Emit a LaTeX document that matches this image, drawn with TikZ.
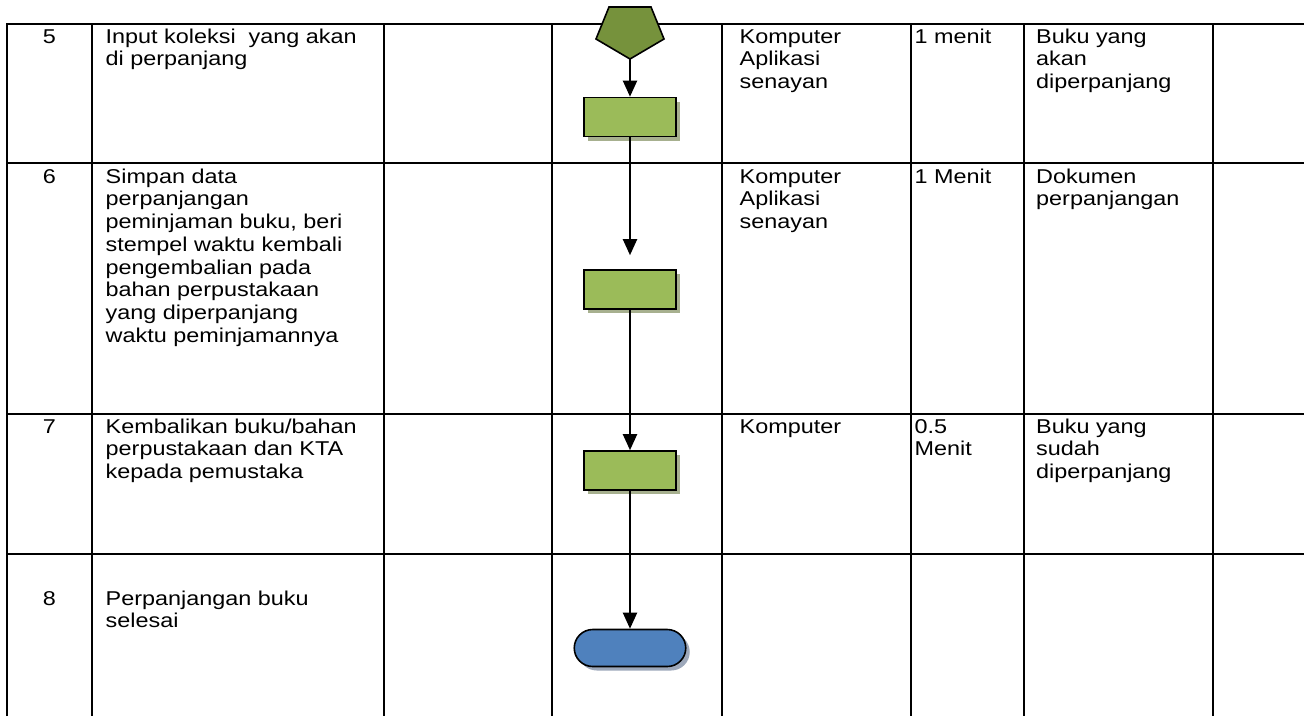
\documentclass[tikz,border=0pt]{standalone}
\usepackage{fontspec}
\setmainfont[FakeStretch=1.17]{Liberation Sans}
\usetikzlibrary{arrows.meta,shadows}
\definecolor{pentfill}{HTML}{76923C}
\definecolor{procfill}{HTML}{9BBB59}
\definecolor{procshade}{HTML}{A7B08F}
\definecolor{endfill}{HTML}{4F81BD}
\definecolor{endshade}{HTML}{9DA8BA}
\newcommand\cellfont{\fontsize{20}{22.7}\selectfont}
% first-line strut: the top of every text block sits 15pt above its first baseline
\newcommand\tp{\rule{0pt}{15pt}}
\begin{document}
\begin{tikzpicture}[x=1pt,y=-1pt,
  grid/.style={line width=2pt},
  cell/.style={anchor=north west, inner sep=0pt, align=left, font=\cellfont},
  num/.style={anchor=north, inner sep=0pt, font=\cellfont},
  procbox/.style={draw=black, line width=1.6pt, fill=procfill, inner sep=0pt,
    minimum width=92.5pt, minimum height=39pt,
    drop shadow={shadow xshift=4pt, shadow yshift=-4pt, fill=procshade, opacity=1}},
  endbox/.style={draw=black, line width=1.6pt, fill=endfill, inner sep=0pt,
    minimum width=111.5pt, minimum height=37pt, rounded corners=18.5pt,
    drop shadow={shadow xshift=4pt, shadow yshift=-4pt, fill=endshade, opacity=1}},
  flow/.style={line width=2pt, -{Triangle[width=14pt,length=16pt]}}
]
\useasboundingbox (0,0) rectangle (1304,716);

% table rules
\draw[grid] (7,716) -- (7,24) -- (1304,24);
\foreach \cx in {92,383.5,552,722,911,1024,1213}
  \draw[grid] (\cx,24) -- (\cx,716);
\foreach \ry in {163,414,554}
  \draw[grid] (7,\ry) -- (1304,\ry);

% row 5
\node[num]  (n5) at (49.5,28) {\tp 5};
\node[cell] (d5) at (105.5,28) {\tp Input koleksi\ \ yang akan\\di perpanjang};
\node[cell] (t5) at (739.5,28) {\tp Komputer\\Aplikasi\\senayan};
\node[cell] (w5) at (914.5,28) {\tp 1 menit};
\node[cell] (o5) at (1036,28) {\tp Buku yang\\akan\\diperpanjang};

% row 6
\node[num]  (n6) at (49.5,168) {\tp 6};
\node[cell] (d6) at (105.5,168) {\tp Simpan data\\perpanjangan\\peminjaman buku, beri\\stempel waktu kembali\\pengembalian pada\\bahan perpustakaan\\yang diperpanjang\\waktu peminjamannya};
\node[cell] (t6) at (739.5,168) {\tp Komputer\\Aplikasi\\senayan};
\node[cell] (w6) at (914.5,168) {\tp 1 Menit};
\node[cell] (o6) at (1036,168) {\tp Dokumen\\perpanjangan};

% row 7
\node[num]  (n7) at (49.5,418) {\tp 7};
\node[cell] (d7) at (105.5,418) {\tp Kembalikan buku/bahan\\perpustakaan dan KTA\\kepada pemustaka};
\node[cell] (t7) at (739.5,418) {\tp Komputer};
\node[cell] (w7) at (914.5,418) {\tp 0.5\\Menit};
\node[cell] (o7) at (1036,418) {\tp Buku yang\\sudah\\diperpanjang};

% row 8
\node[num]  (n8) at (49.5,590) {\tp 8};
\node[cell] (d8) at (105.5,590) {\tp Perpanjangan buku\\selesai};

% flow symbols
\node[procbox] (r1) at (630,117) {};
\node[procbox] (r2) at (630,289.5) {};
\node[procbox] (r3) at (630,470.5) {};
\node[endbox]  (fin) at (630,648) {};

% off-page connector
\draw[line width=1.6pt, fill=pentfill, line join=miter]
  (609,7) -- (651,7) -- (664,39) -- (630,59) -- (596,39) -- cycle;
\coordinate (pent) at (630,59);

% connectors
\draw[flow] (pent) -- (r1.north);
\draw[flow, shorten >=14pt] (r1.south) -- (r2.north);
\draw[flow] (r2.south) -- (r3.north);
\draw[flow] (r3.south) -- (fin.north);
\end{tikzpicture}
\end{document}
